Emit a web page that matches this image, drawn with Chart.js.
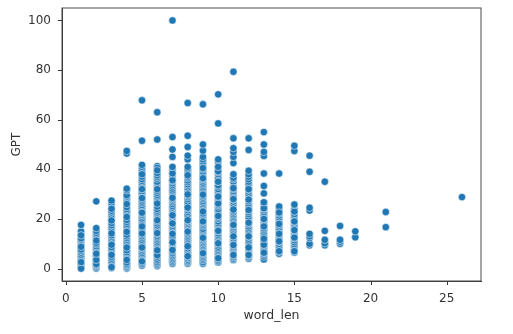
<!DOCTYPE html>
<html>
<head>
<meta charset="utf-8">
<style>html,body{margin:0;padding:0;background:#fff}canvas{display:block;filter:blur(0.4px)}</style>
<script src="https://cdn.jsdelivr.net/npm/chart.js@4"></script>
</head>
<body>
<canvas id="c" width="513" height="334"></canvas>
<script>
const wordLens = [1,2,3,4,5,6,7,8,9,10,11,12,13,14,15,16,17,18,19,21,26];
const xTicks = [0,5,10,15,20,25];
const yTicks = [0,20,40,60,80,100];
const gpt1 = [0.6,1.2,1.8,3.4,4.1,5,5.6,6.4,7.1,7.7,9.5,10.3,11,11.6,12.2,14,15,0,2.6,8.8,13.4,17.6];
const gpt2 = [0,0.4,0.9,1.4,2.2,2.9,4.2,4.8,5.4,6.8,7.6,8.2,9,9.8,10.4,12.3,13,13.7,14.4,15.2,16.3,1.8,3.5,6,11.3,27.1];
const gpt3 = [0.2,1,1.7,2.4,3.2,4,4.7,6.2,7,7.8,8.6,10.4,11.2,12,12.8,13.4,15,15.8,16.6,17.5,18.4,20.4,21,21.8,22.6,23.3,25,25.8,26.5,27.4,0.6,5.5,9.6,14.2,19.4,24.1];
const gpt4 = [0,0.4,0.9,1.4,1.9,2.5,4.2,5,5.8,6.6,7.4,9.2,10,10.8,11.6,12.3,13,13.7,15.8,16.5,17.2,18,18.8,19.6,21.8,22.5,23.2,24,24.8,27,27.7,28.4,29,29.6,3.5,8.5,14.8,20.8,26,31.5,32.2,46.4,47.4];
const gpt5 = [1.2,1.8,2.4,3.6,4.3,5,5.6,6.2,6.9,7.6,8.2,9,9.7,10.3,11,11.6,12.4,13,13.7,15,15.6,16.2,17.6,18.3,18.9,19.6,20.2,21,21.6,22.2,23,23.7,24.3,25,25.6,26.4,27,27.8,29,29.7,30.4,31.1,32,33,33.8,34.6,35.3,36,37,38.4,39.2,40,41,2.9,8.5,14.2,17,22.5,28.4,32,38,41.8,51.5,67.8];
const gpt6 = [1,1.5,2,2.6,3.3,4,4.8,6,6.7,8,8.8,9.4,10,10.6,11.3,12,12.6,13.2,14,14.8,15.4,16,16.8,17.4,18.2,19,20.2,20.8,21.4,22,22.6,23.3,24,25,26.8,27.5,28.2,29,29.7,30.5,31.3,33,33.7,34.4,35,36.2,36.9,37.6,38.5,41.3,40.6,5.4,7.4,14.3,19.5,26.2,32,39.6,52,63];
const gpt7 = [2,2.6,3.2,3.8,4.4,5,5.6,6.2,6.9,8.4,9,9.6,10.2,11,11.8,12.5,13.2,14.8,15.4,16,16.6,17.2,18,18.6,19.4,20,20.6,21.2,22,22.6,23.3,24,24.6,25.2,26,26.8,27.4,28,30,30.8,31.5,32.2,33,33.7,34.4,35.2,36,37,37.8,39,40,7.5,10.6,14,18.2,21.5,28.5,35.6,38.4,41,45,48,53,100];
const gpt8 = [2,2.5,3,3.6,4.2,4.8,5.4,6,6.8,7.5,8.2,9,9.6,10.6,11.4,12,12.6,13.2,13.8,14.4,15.6,16.2,16.8,17.4,18,18.6,19.2,20,20.6,21.2,21.8,22.8,23.5,24.2,25,25.6,26.2,27,28,28.8,29.4,30,31,31.8,32.6,33.4,34,34.8,35.5,36.4,37,38,38.8,39.6,40.2,44,45.5,5,9,14.9,19.5,24.6,29.9,37.6,41,49,53.5,66.7];
const gpt9 = [2,2.6,3.4,4,4.6,5.2,5.8,6.4,7,7.6,8.4,9,9.6,10.2,10.8,11.4,12,13,13.6,14.2,14.8,15.4,16,17,17.6,18.2,18.8,19.6,20.2,21,21.6,22.2,23.6,24.2,24.8,25.4,26,26.6,27.2,28,28.6,29.2,30,31,31.8,32.6,33.4,34,34.6,35.4,36,37,38,39,40,41,42,43,44,45,6.2,12.4,19,23,29.8,36.4,40.5,47.5,50,66.2];
const gpt10 = [2.5,3,3.6,4.4,5,5.6,6.2,7,7.6,8.2,8.8,9.6,10.4,11,11.6,12.3,13,13.6,14.2,15,15.6,16.4,17,17.6,18.3,19,20,20.6,21.4,22,22.8,23.4,24,25,25.6,26.2,27,27.6,28.2,29.6,30.4,31.2,32,33,33.6,35,35.8,36.5,38,38.8,39.6,40.4,41.2,43,4.2,10.2,15.2,21.2,26.2,29,35,39.2,41,44,58.5,70.2];
const gpt11 = [3.5,4,4.6,5.2,6,6.8,7.4,8,8.6,9.2,9.8,10.4,11,11.6,12.2,13,13.6,14.2,14.8,15.4,16.2,16.8,17.4,18,18.8,19.4,20,20.8,21.4,22,22.6,23.2,24,25,25.6,26.2,27,27.8,28.4,29,29.8,30.6,31.2,32,33,35,36,37,5.5,9.5,13,17.6,23.8,28,32.4,36.6,38,42.5,45,47,48.5,52.5,79.3];
const gpt12 = [4,4.6,5.2,6,6.6,7.2,8,8.8,9.6,10.4,11.2,12,12.8,13.6,14.2,15,15.6,16.4,17,17.8,18.4,19,19.8,20.4,21,22,22.8,23.6,24.4,25,25.6,26.4,27.2,28,28.6,29.4,30,31,31.8,33,34,35,36,37,38,5.5,8.5,13,18.5,23.6,27.8,32,39.4,47.8,52.5];
const gpt13 = [3.7,4.8,5.6,6.2,7,7.6,8.4,9.2,10,10.8,11.6,12.4,13.2,14,14.8,15.6,16.2,17,18,19,19.8,20.6,21.4,22.2,22.8,23.6,24.2,25,26,26.8,6.4,9.6,12,17,20,24.3,26.7,30.3,33.3,38.3,45.4,47,50,55];
const gpt14 = [6,6.8,7.6,8.4,9.2,10,10.8,11.6,12.6,13.4,14.2,15,15.8,16.6,17.4,18.2,19,19.8,20.6,21.4,22.2,23,24,25,7,11,14,18,22.6,38.3];
const gpt15 = [6.5,7.4,8.2,9,9.8,10.6,11.4,12.2,13,13.8,14.6,15.4,16.2,17,18,18.8,19.6,20.4,21.2,22,23,24,7,12.5,15.5,19,23,25.8,47.4,49.5];
const gpt16 = [9.4,10,12.3,13,14,23.4,24.5,39,45.5];
const gpt17 = [9.4,10.2,11.6,15.2,35];
const gpt18 = [10,10.8,11.6,17.2];
const gpt19 = [12.6,15];
const gpt21 = [16.7,22.8];
const gpt26 = [28.8];
const gptColumns = [gpt1,gpt2,gpt3,gpt4,gpt5,gpt6,gpt7,gpt8,gpt9,gpt10,gpt11,gpt12,gpt13,gpt14,gpt15,gpt16,gpt17,gpt18,gpt19,gpt21,gpt26];

const points = [];
gptColumns.forEach((col,i)=>col.forEach(v=>points.push({x:wordLens[i],y:v})));

const font = {family:'"DejaVu Sans"',size:12};
const frame = {id:'frame',afterDraw(ch){const a=ch.chartArea,c=ch.ctx;c.save();c.strokeStyle='#4a4a4a';c.lineWidth=1;
  c.strokeRect(a.left,a.top,a.right-a.left,a.bottom-a.top);c.restore();}};
new Chart(document.getElementById('c'),{
  type:'scatter',
  data:{datasets:[{data:points,backgroundColor:'#1f77b4',borderColor:'rgba(255,255,255,0.75)',borderWidth:0.7,pointRadius:3.7}]},
  options:{
    responsive:false,animation:false,
    layout:{padding:{top:8,right:32,left:0,bottom:0}},
    plugins:{legend:{display:false},tooltip:{enabled:false}},
    scales:{
      x:{type:'linear',min:-0.25,max:27.25,
        afterBuildTicks(s){s.ticks=xTicks.map(v=>({value:v}));},
        afterFit(s){s.height=53;s.paddingLeft=0;s.paddingRight=0;},
        grid:{display:false},border:{color:'#333',display:true},
        ticks:{color:'#333',font,maxRotation:0,padding:3,autoSkip:false},
        title:{display:true,text:'word_len',color:'#333',font:{family:'"DejaVu Sans"',size:12.5},padding:{top:4,bottom:11}}},
      y:{type:'linear',min:-5,max:105,
        afterBuildTicks(s){s.ticks=yTicks.map(v=>({value:v}));},
        afterFit(s){s.width=62;s.paddingTop=0;s.paddingBottom=0;},
        grid:{display:false},border:{color:'#333',display:true},
        ticks:{color:'#333',font,padding:3,autoSkip:false},
        title:{display:true,text:'GPT',color:'#333',font,padding:{top:10,bottom:4}}}
    }
  },
  plugins:[{id:'ticks',afterDraw(ch){const c=ch.ctx,a=ch.chartArea;c.save();c.strokeStyle='#333';c.lineWidth=1;c.beginPath();
    xTicks.forEach(v=>{const p=Math.round(ch.scales.x.getPixelForValue(v))+.5;c.moveTo(p,a.bottom);c.lineTo(p,a.bottom+4);});
    yTicks.forEach(v=>{const p=Math.round(ch.scales.y.getPixelForValue(v))+.5;c.moveTo(a.left,p);c.lineTo(a.left-4,p);});
    c.stroke();c.restore();}},frame]
});
</script>
</body>
</html>
